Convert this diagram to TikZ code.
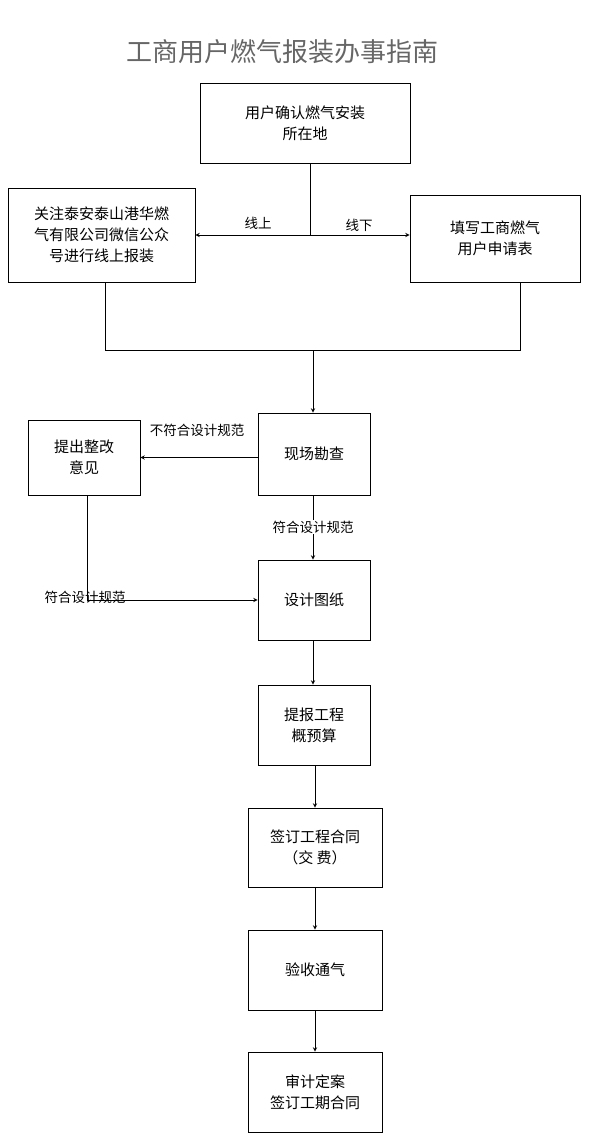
\documentclass[tikz,border=0pt]{standalone}
\usepackage{fontspec}
\setmainfont{Noto Sans CJK SC}
\begin{document}
\begin{tikzpicture}[x=1pt,y=-1pt,
 box/.style={draw,line width=0.9pt,align=center,font=\fontsize{15}{21}\selectfont,inner sep=0pt},
 lab/.style={font=\fontsize{13.5}{16}\selectfont},
 arr/.style={->,>=stealth,line width=0.9pt},
 ln/.style={line width=0.9pt}]
\useasboundingbox (0,0) rectangle (600,1134);
\node[font=\fontsize{26}{30}\selectfont,text=black!60] (title) at (282,52) {工商用户燃气报装办事指南};
\node[box,minimum width=210pt,minimum height=80pt] (b1) at (305,123) {用户确认燃气安装\\所在地};
\node[box,minimum width=187pt,minimum height=94pt] (bl) at (101.5,235) {关注泰安泰山港华燃\\气有限公司微信公众\\号进行线上报装};
\node[box,minimum width=170pt,minimum height=87pt] (br) at (495,238.5) {填写工商燃气\\用户申请表};
\coordinate (j1) at (310,235);
\draw[ln] (b1.south -| j1) -- (j1);
\draw[arr] (j1) -- (bl.east |- j1);
\draw[arr] (j1) -- (br.west |- j1);
\node[lab] (on) at (258,223) {线上};
\node[lab] (off) at (359,225) {线下};
\coordinate (j2) at (313,350);
\draw[ln] (105,282) -- (105,350) -- (520,350) -- (520,282);
\node[box,minimum width=112pt,minimum height=82pt] (xc) at (314,454) {现场勘查};
\node[box,minimum width=112pt,minimum height=75pt] (tc) at (84,457.5) {提出整改\\意见};
\draw[arr] (j2) -- (xc.north -| j2);
\draw[arr] (xc.west |- tc) -- (tc.east);
\node[lab] (nf) at (197,430) {不符合设计规范};
\node[box,minimum width=112pt,minimum height=80pt] (sj) at (314,600) {设计图纸};
\draw[arr] (xc.south -| j2) -- (sj.north -| j2);
\node[lab,fill=white,inner sep=1pt] (f1) at (313,527) {符合设计规范};
\coordinate (j3) at (87,600);
\draw[arr] (tc.south -| j3) -- (j3) -- (sj.west);
\node[lab] (f2) at (85,597) {符合设计规范};
\node[box,minimum width=112pt,minimum height=80pt] (tb) at (314,725) {提报工程\\概预算};
\draw[arr] (sj.south -| j2) -- (tb.north -| j2);
\node[box,minimum width=134pt,minimum height=79pt] (qd) at (315,847.5) {签订工程合同\\（交 费）};
\draw[arr] (315,765) -- (qd.north);
\node[box,minimum width=134pt,minimum height=80pt] (ys) at (315,970) {验收通气};
\draw[arr] (qd.south) -- (ys.north);
\node[box,minimum width=134pt,minimum height=80pt] (sd) at (315,1092) {审计定案\\签订工期合同};
\draw[arr] (ys.south) -- (sd.north);
\end{tikzpicture}
\end{document}
